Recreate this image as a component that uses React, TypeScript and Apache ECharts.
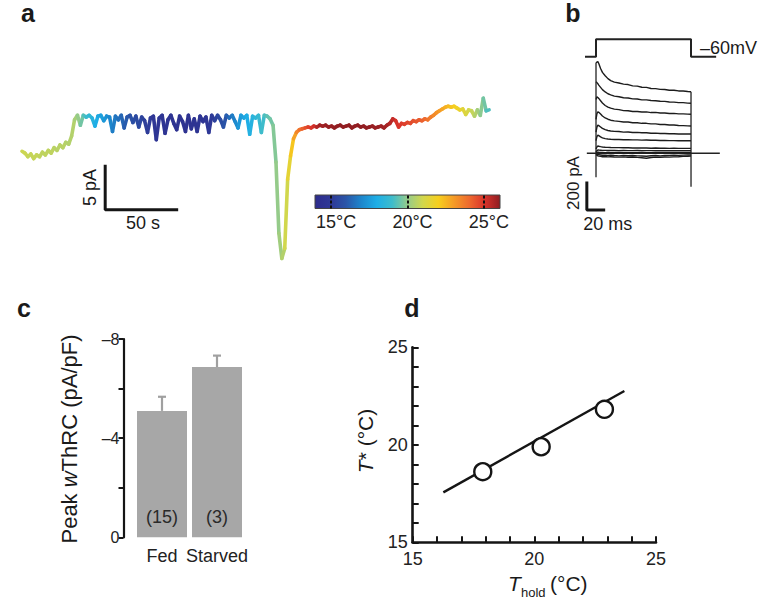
import React, { useEffect, useRef } from 'react';
import * as echarts from 'echarts';

const FONT = '"Liberation Sans", Arial, Helvetica, sans-serif';

// ---------- Panel a: current trace (pA), sampled every 2 s, and bath temperature (°C)
const TRACE_DT = 2;
const traceCurrent = [
  -3.7, -3.9, -4.3, -4.0, -4.5, -4.1, -4.3, -3.8, -4.1, -3.6,
  -3.9, -3.3, -3.6, -3.0, -3.3, -2.7, -2.9, -2.0, -0.2, 0.3,
  -0.8, 0.3, 0.1, 0.3, 0.0, -0.9, 0.2, 0.3, -0.3, 0.2,
  0.1, -1.5, 0.2, -0.2, 0.3, -1.1, 0.1, 0.3, -0.5, 0.2,
  -1.0, 0.1, -0.3, -1.6, 0.0, 0.2, -2.4, 0.0, 0.3, -1.7,
  -0.2, 0.3, -0.6, -1.3, 0.2, -0.4, -1.5, 0.3, -1.2, -0.1,
  -1.5, 0.2, -0.4, 0.1, -1.6, 0.3, -0.3, 0.3, -0.2, -1.0,
  0.3, 0.0, 0.3, -0.4, -1.1, 0.3, 0.0, 0.3, -1.8, 0.2,
  0.0, 0.3, -1.6, 0.3, 0.2, -0.1, -0.8, -4.9, -12.8, -15.6,
  -14.5, -6.8, -4.2, -2.3, -1.6, -1.3, -1.2, -1.1, -1.0, -1.1,
  -0.9, -1.0, -0.8, -0.9, -0.8, -1.0, -0.9, -1.1, -0.9, -0.8,
  -1.0, -0.9, -0.8, -1.1, -0.9, -0.8, -1.0, -0.9, -1.1, -1.0,
  -0.9, -1.1, -1.0, -0.9, -1.1, -0.8, -0.6, -0.1, -0.3, -1.0,
  -0.6, -0.7, -0.5, -0.6, -0.3, -0.4, -0.2, -0.3, -0.1, -0.2,
  0.1, 0.3, 0.6, 0.8, 1.0, 1.2, 1.3, 1.2, 1.3, 1.1,
  0.9, 1.0, 0.4, 0.9, 0.8, 0.2, 0.9, 0.3, 2.2, 0.8,
  0.9,
];
const traceTemp = [
  20.9, 20.9, 20.8, 20.8, 20.8, 20.8, 20.7, 20.7, 20.7, 20.7,
  20.7, 20.6, 20.6, 20.6, 20.6, 20.5, 20.5, 20.5, 20.3, 20.0,
  19.6, 19.2, 18.9, 18.6, 18.3, 18.0, 17.8, 17.6, 17.4, 17.2,
  17.0, 16.8, 16.6, 16.5, 16.3, 16.1, 16.0, 15.8, 15.7, 15.6,
  15.5, 15.3, 15.2, 15.1, 15.0, 14.9, 14.8, 14.8, 14.7, 14.7,
  14.6, 14.6, 14.5, 14.5, 14.5, 14.5, 14.5, 14.5, 14.6, 14.6,
  14.7, 14.7, 14.8, 14.9, 15.0, 15.1, 15.3, 15.5, 15.7, 15.9,
  16.2, 16.5, 16.8, 17.1, 17.4, 17.6, 17.8, 18.0, 18.2, 18.4,
  18.6, 18.8, 19.0, 19.2, 19.4, 19.6, 19.8, 20.0, 20.2, 20.5,
  21.0, 21.5, 22.2, 22.9, 23.5, 23.9, 24.2, 24.5, 24.8, 25.0,
  25.2, 25.6, 25.8, 25.8, 25.9, 25.9, 25.9, 26.0, 26.0, 26.0,
  26.0, 26.0, 26.0, 26.0, 26.0, 26.0, 26.0, 26.0, 26.0, 26.0,
  25.9, 25.9, 25.9, 25.8, 25.8, 25.7, 25.5, 25.3, 25.1, 25.0,
  24.9, 24.8, 24.7, 24.6, 24.5, 24.4, 24.3, 24.2, 24.0, 23.8,
  23.6, 23.4, 23.2, 23.0, 22.8, 22.6, 22.4, 22.2, 22.0, 21.8,
  21.6, 21.4, 21.2, 21.0, 20.8, 20.5, 20.2, 19.9, 19.6, 19.2,
  18.8,
];
const TEMP_MIN = 13.95;
const TEMP_MAX = 26.05;
const tempTicks = [15, 20, 25];
const tempColors = [
  '#2d2c8c', '#2f3896', '#2a55a8', '#1d86cc', '#1eaee6', '#3dbccc', '#95cb8a',
  '#d2d74c', '#f6cf1e', '#f59b26', '#ee6a2e', '#d9332b', '#8e1d22',
];
const scaleBarA = [[57, -5.2], [57, -10.2], [107, -10.2]]; // 5 pA, 50 s

// ---------- Panel b: step protocol and current family
const stepProtocol = [[-12, -60], [0, -60], [0, 40], [103.6, 40], [103.6, -60], [131, -60]];
const bTimes = [0, 1, 2, 3, 5, 7, 10, 13, 16, 20, 25, 30, 35, 40, 45, 50, 55, 60, 65, 70, 75, 80, 85, 90, 95, 100, 103.6];
const bTraces = [
  [640, 645, 648, 635, 600, 572, 548, 528, 514, 503, 497, 489, 486, 477, 475, 467, 466, 458, 457, 452, 451, 446, 446, 441, 441, 437, 435],
  [506, 500, 492, 482, 466, 450, 434, 421, 413, 404, 400, 393, 391, 385, 384, 378, 378, 373, 372, 368, 367, 363, 362, 358, 358, 355, 354],
  [380, 400, 395, 388, 372, 356, 338, 327, 319, 312, 309, 302, 301, 296, 296, 292, 293, 288, 289, 285, 285, 281, 282, 279, 279, 277, 276],
  [240, 280, 294, 290, 278, 264, 250, 241, 234, 229, 226, 221, 221, 216, 216, 212, 212, 208, 208, 204, 204, 200, 200, 197, 196, 194, 193],
  [150, 185, 200, 196, 186, 176, 167, 161, 158, 155, 154, 150, 151, 147, 148, 145, 145, 142, 143, 140, 140, 138, 138, 137, 137, 136, 136],
  [90, 118, 129, 125, 116, 109, 104, 101, 99, 98, 98, 96, 97, 95, 95, 93, 94, 92, 92, 91, 91, 90, 90, 89, 90, 89, 89],
  [30, 45, 52, 50, 47, 45, 43, 42, 41, 40, 40, 39, 39, 38, 38, 37, 38, 36, 37, 36, 36, 35, 36, 35, 35, 35, 35],
  [10, 18, 24, 23, 22, 21, 21, 20, 20, 20, 19, 20, 19, 19, 20, 18, 19, 19, 18, 19, 18, 18, 19, 18, 18, 18, 18],
  [2, 6, 8, 7, 6, 6, 5, 6, 5, 5, 6, 5, 5, 4, 5, 5, 4, 5, 4, 5, 4, 4, 5, 4, 4, 4, 4],
  [-5, -8, -9, -10, -12, -14, -13, -15, -14, -16, -18, -15, -17, -16, -18, -19, -21, -17, -16, -18, -15, -16, -14, -15, -13, -12, -12],
  [-8, -14, -18, -20, -22, -24, -23, -25, -24, -26, -27, -25, -28, -26, -29, -31, -35, -30, -27, -28, -26, -27, -25, -24, -22, -21, -20],
];
const bBaseline = [[-10, 0], [135, 0]];
const bOnTransient = [[0, -170], [0, 640]];
const bOffTransient = [[103.6, 435], [103.6, -236]];
const scaleBarB = [[-10, -200], [-10, -400], [10, -400]]; // 200 pA, 20 ms

// ---------- Panel c
const groups = ['Fed', 'Starved'];
const groupMeans = [-5.1, -6.87];
const groupSem = [0.57, 0.46];
const groupN = [15, 3];

// ---------- Panel d
const tHold = [17.88, 20.28, 22.88];
const tStar = [18.62, 19.9, 21.82];
const fitLine = [[16.26, 17.56], [23.7, 22.76]];

const BLACK = '#151515';

function buildOption() {
  const traceData = traceCurrent.map((v, i) => [i * TRACE_DT, v, traceTemp[i]]);
  const stops = tempColors.map((c, i) => ({ offset: i / (tempColors.length - 1), color: c }));

  const hidden = { show: false };

  const series: any[] = [
    {
      type: 'custom',
      xAxisIndex: 0,
      yAxisIndex: 0,
      data: traceData,
      encode: { x: 0, y: 1 },
      renderItem: (params: any, api: any) => {
        const i = params.dataIndex;
        if (i >= traceCurrent.length - 1) return null;
        const p0 = api.coord([api.value(0), api.value(1)]);
        const p1 = api.coord([(i + 1) * TRACE_DT, traceCurrent[i + 1]]);
        return {
          type: 'line',
          shape: { x1: p0[0], y1: p0[1], x2: p1[0], y2: p1[1] },
          style: { stroke: api.visual('color'), lineWidth: 3.6, lineCap: 'round' },
        };
      },
    },
    {
      type: 'line', xAxisIndex: 0, yAxisIndex: 0, data: scaleBarA, symbol: 'none',
      lineStyle: { color: BLACK, width: 3 },
    },
    {
      type: 'line', xAxisIndex: 2, yAxisIndex: 2, data: stepProtocol, symbol: 'none',
      lineStyle: { color: '#222', width: 2 },
    },
    {
      type: 'line', xAxisIndex: 3, yAxisIndex: 3, data: bBaseline, symbol: 'none',
      lineStyle: { color: '#222', width: 1.4 },
    },
    ...bTraces.map((tr) => ({
      type: 'line', xAxisIndex: 3, yAxisIndex: 3,
      data: bTimes.map((t, i) => [t, tr[i]]), symbol: 'none',
      lineStyle: { color: '#1c1c1c', width: 1.4 },
    })),
    {
      type: 'line', xAxisIndex: 3, yAxisIndex: 3, data: bOnTransient, symbol: 'none',
      lineStyle: { color: '#222', width: 1.3 },
    },
    {
      type: 'line', xAxisIndex: 3, yAxisIndex: 3, data: bOffTransient, symbol: 'none',
      lineStyle: { color: '#222', width: 1.3 },
    },
    {
      type: 'line', xAxisIndex: 3, yAxisIndex: 3, data: scaleBarB, symbol: 'none',
      lineStyle: { color: BLACK, width: 3 },
    },
    {
      type: 'bar', xAxisIndex: 4, yAxisIndex: 4, data: groupMeans, barWidth: 50,
      itemStyle: { color: '#a7a7a7' },
      label: {
        show: true, position: 'insideBottom', distance: 11,
        formatter: (p: any) => `(${groupN[p.dataIndex]})`,
        fontSize: 18, color: '#2a2a2a', fontFamily: FONT,
      },
    },
    {
      type: 'custom', xAxisIndex: 4, yAxisIndex: 4,
      data: groupMeans.map((m, i) => [i, m, groupSem[i]]),
      encode: { x: 0, y: 1 },
      z: 3,
      renderItem: (params: any, api: any) => {
        const base = api.coord([api.value(0), api.value(1)]);
        const top = api.coord([api.value(0), api.value(1) - api.value(2)]);
        const st = { stroke: '#a0a0a0', lineWidth: 2.2 };
        return {
          type: 'group',
          children: [
            { type: 'line', shape: { x1: base[0], y1: base[1], x2: top[0], y2: top[1] }, style: st },
            { type: 'line', shape: { x1: top[0] - 4, y1: top[1], x2: top[0] + 4, y2: top[1] }, style: st },
          ],
        };
      },
    },
    {
      type: 'line', xAxisIndex: 5, yAxisIndex: 5, data: fitLine, symbol: 'none',
      lineStyle: { color: BLACK, width: 2.4 }, z: 2,
    },
    {
      type: 'scatter', xAxisIndex: 5, yAxisIndex: 5,
      data: tHold.map((x, i) => [x, tStar[i]]), symbol: 'circle', symbolSize: 17,
      itemStyle: { color: '#fff', borderColor: BLACK, borderWidth: 2.4, opacity: 1 }, z: 5,
    },
  ];

  const dAxisCommon = {
    type: 'value', min: 15, max: 25, interval: 1,
    axisLine: { show: true, onZero: false, lineStyle: { color: BLACK, width: 2.6 } },
    axisTick: { show: true, inside: true, length: 6, lineStyle: { color: BLACK, width: 2 } },
    axisLabel: {
      fontSize: 18, color: '#222', fontFamily: FONT,
      formatter: (v: number) => (v % 5 === 0 ? String(v) : ''),
    },
    splitLine: { show: false },
  };

  const text = (x: number, y: number, t: string, size: number, extra: any = {}) => ({
    type: 'text', x, y, z: 20, rotation: extra.rotation || 0,
    style: {
      text: t, fontSize: size, fontFamily: FONT, fill: extra.fill || '#1a1a1a',
      fontWeight: extra.fontWeight || 'normal', fontStyle: extra.fontStyle || 'normal',
      textAlign: extra.align || 'center', textVerticalAlign: 'middle', rich: extra.rich,
    },
  });

  return {
    animation: false,
    backgroundColor: '#fff',
    textStyle: { fontFamily: FONT },
    grid: [
      { left: 22, top: 91, width: 470, height: 180 },
      { left: 315, top: 195, width: 185, height: 13.5, show: false, z: 10 },
      { left: 585, top: 28.86, width: 135, height: 34.8 },
      { left: 585, top: 54.3, width: 135, height: 162.65 },
      { left: 134.5, top: 339, width: 110, height: 198.3 },
      { left: 412.7, top: 347.3, width: 243.3, height: 195 },
    ],
    xAxis: [
      { type: 'value', gridIndex: 0, min: 0, max: 322, ...hidden },
      {
        type: 'value', gridIndex: 1, min: TEMP_MIN, max: TEMP_MAX, z: 10,
        axisLine: { show: false },
        axisTick: { show: true, inside: true, length: 13.5, customValues: tempTicks, lineStyle: { color: '#111', width: 2, type: [3, 2] } },
        axisLabel: { show: true, customValues: tempTicks, formatter: '{value}°C', fontSize: 18, color: '#222', margin: 4, padding: [0, 0, 0, 10] },
        splitLine: { show: false },
      },
      { type: 'value', gridIndex: 2, min: -12, max: 135.2, ...hidden },
      { type: 'value', gridIndex: 3, min: -12, max: 135.2, ...hidden },
      {
        type: 'category', gridIndex: 4, data: groups,
        axisLine: { show: false }, axisTick: { show: false },
        axisLabel: { interval: 0, hideOverlap: false, fontSize: 18, color: '#222', margin: 10, fontFamily: FONT },
      },
      { ...dAxisCommon, gridIndex: 5 },
    ],
    yAxis: [
      { type: 'value', gridIndex: 0, min: -17, max: 3, ...hidden },
      { type: 'value', gridIndex: 1, min: 0, max: 1, ...hidden },
      { type: 'value', gridIndex: 2, min: -100, max: 100, ...hidden },
      { type: 'value', gridIndex: 3, min: -450, max: 700, ...hidden },
      {
        type: 'value', gridIndex: 4, min: -8, max: 0, interval: 2, inverse: true, offset: 11,
        axisLine: { show: true, onZero: false, lineStyle: { color: BLACK, width: 2.2 } },
        axisTick: { show: true, length: 5, lineStyle: { color: BLACK, width: 2 } },
        axisLabel: {
          fontSize: 16, color: '#222', margin: 4, fontFamily: FONT,
          formatter: (v: number) => (v === 0 ? '0' : v % 4 === 0 ? `–${Math.abs(v)}` : ''),
        },
        splitLine: { show: false },
      },
      { ...dAxisCommon, gridIndex: 5, axisLabel: { ...dAxisCommon.axisLabel, margin: 5 } },
    ],
    visualMap: [
      {
        type: 'continuous', show: false, seriesIndex: 0, dimension: 2,
        min: TEMP_MIN, max: TEMP_MAX, inRange: { color: tempColors },
      },
    ],
    graphic: [
      {
        type: 'rect', z: 5,
        shape: { x: 315, y: 195, width: 185, height: 13.5 },
        style: { fill: new echarts.graphic.LinearGradient(0, 0, 1, 0, stops), stroke: '#444', lineWidth: 1 },
      },
      text(28, 13, 'a', 25, { fontWeight: 'bold' }),
      text(573, 13, 'b', 25, { fontWeight: 'bold' }),
      text(24, 308, 'c', 25, { fontWeight: 'bold' }),
      text(412, 308, 'd', 25, { fontWeight: 'bold' }),
      text(90, 187.5, '5 pA', 18, { rotation: Math.PI / 2 }),
      text(143, 223, '50 s', 18),
      text(573.3, 183, '200 pA', 17, { rotation: Math.PI / 2 }),
      text(607.7, 223.5, '20 ms', 18),
      text(700, 48, '–60mV', 18, { align: 'left' }),
      text(69, 439, '{n|Peak }{i|w}{n|ThRC (pA/pF)}', 22, {
        rotation: Math.PI / 2,
        rich: {
          n: { fontSize: 22, fontFamily: FONT, fill: '#1a1a1a' },
          i: { fontSize: 22, fontFamily: FONT, fontStyle: 'italic', fill: '#1a1a1a' },
        },
      }),
      text(365, 441, '{i|T}{n|* (°C)}', 21, {
        rotation: Math.PI / 2,
        rich: {
          n: { fontSize: 21, fontFamily: FONT, fill: '#1a1a1a' },
          i: { fontSize: 21, fontFamily: FONT, fontStyle: 'italic', fill: '#1a1a1a' },
        },
      }),
      text(508, 583, 'T', 21, { align: 'left', fontStyle: 'italic' }),
      text(521, 592, 'hold', 13, { align: 'left' }),
      text(550, 583, '(°C)', 21, { align: 'left' }),
    ],
    series,
  };
}

export default function App() {
  const ref = useRef<HTMLDivElement>(null);
  useEffect(() => {
    if (!ref.current) return;
    const chart = echarts.init(ref.current, null, { renderer: 'svg' });
    chart.setOption(buildOption() as any);
    return () => chart.dispose();
  }, []);
  return (
    <div
      ref={ref}
      style={{ position: 'fixed', left: 0, top: 0, width: 764, height: 608, background: '#fff' }}
    />
  );
}
